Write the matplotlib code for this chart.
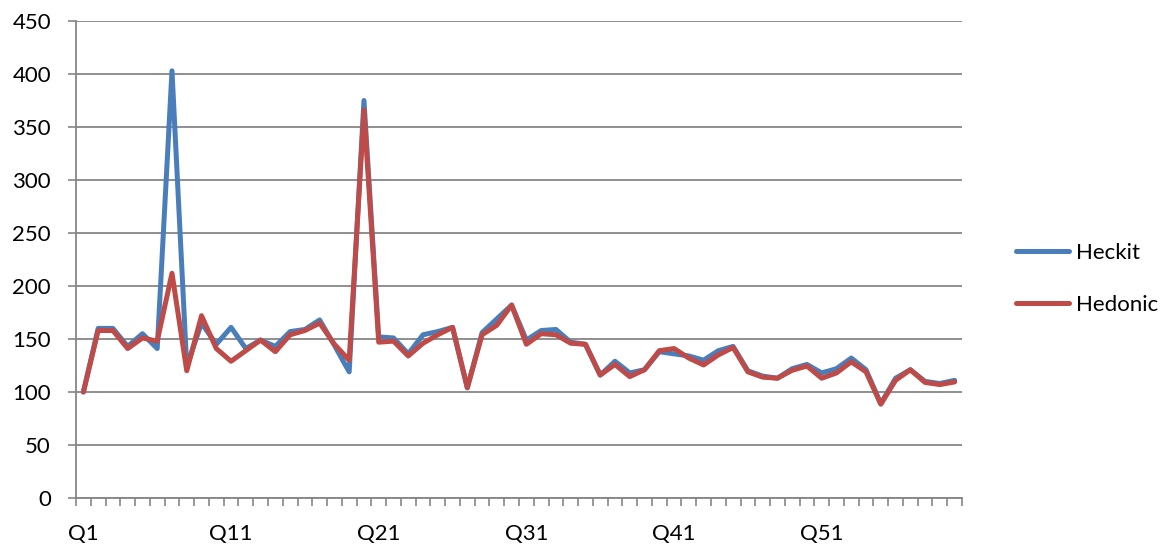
import matplotlib
matplotlib.use("Agg")
import matplotlib.pyplot as plt
from matplotlib.ticker import FixedLocator

# Quarterly index values, Q1..Q60
quarters = [f"Q{i}" for i in range(1, 61)]

heckit = [100, 160, 160, 143, 155, 141, 403, 124, 165, 145,
          161, 141, 149, 143, 157, 159, 168, 144, 119, 375,
          152, 151, 136, 154, 157, 161, 104, 156, 169, 182,
          149, 158, 159, 147, 145, 116, 129, 118, 121, 138,
          136, 134, 130, 139, 143, 120, 115, 113, 122, 126,
          118, 122, 132, 121, 89, 113, 121, 110, 108, 111]

hedonic = [100, 158, 158, 141, 151, 148, 212, 120, 172, 141,
           129, 139, 149, 138, 154, 158, 165, 145, 130, 366,
           147, 148, 134, 146, 154, 161, 104, 154, 163, 182,
           145, 155, 154, 146, 145, 116, 126, 114.5, 121, 139,
           141, 132, 125.5, 135, 142, 119, 114, 113, 120.5, 124.5,
           113, 118, 128.5, 119, 88.5, 111, 121, 109, 107, 109.5]

tick_labels = ["Q1", "Q11", "Q21", "Q31", "Q41", "Q51"]
y_ticks = [0, 50, 100, 150, 200, 250, 300, 350, 400, 450]

BLUE = "#4A7EBB"
RED = "#BE4B48"
GRID = "#868686"
FS = 16

plt.rcParams["font.family"] = ["Lato", "DejaVu Sans"]

fig = plt.figure(figsize=(11.72, 5.45), dpi=100)
ax = fig.add_axes([76 / 1172, 1 - 498 / 545, (962 - 76) / 1172, (498 - 21) / 545])

x = list(range(1, len(quarters) + 1))
ax.plot(x, heckit, color=BLUE, lw=3.6, solid_joinstyle="round",
        solid_capstyle="round", label="Heckit", zorder=3)
ax.plot(x, hedonic, color=RED, lw=3.6, solid_joinstyle="round",
        solid_capstyle="round", label="Hedonic", zorder=4)

ax.set_xlim(0.5, len(quarters) + 0.5)
ax.set_ylim(0, 450)
ax.set_yticks(y_ticks)
ax.yaxis.grid(True, color=GRID, lw=1.3)
ax.set_axisbelow(True)

# category boundary ticks and labels every ten quarters
ax.xaxis.set_major_locator(FixedLocator([i + 0.5 for i in range(0, len(quarters) + 1)]))
ax.set_xticklabels([])
label_pos = [quarters.index(q) + 1 for q in tick_labels]
ax.xaxis.set_minor_locator(FixedLocator(label_pos))
ax.set_xticklabels(tick_labels, minor=True)
ax.tick_params(axis="x", which="major", length=6, width=1.2, color=GRID)
ax.tick_params(axis="x", which="minor", length=0, pad=19, labelsize=FS)
ax.tick_params(axis="y", length=6, width=1.2, color=GRID, labelsize=FS, pad=12)

for side in ("top", "right"):
    ax.spines[side].set_visible(False)
for side in ("left", "bottom"):
    ax.spines[side].set_color(GRID)
    ax.spines[side].set_linewidth(1.3)

leg = fig.legend(loc="center left", bbox_to_anchor=(1016 / 1172, 1 - 279 / 545),
                 frameon=False, fontsize=FS, handlelength=2.4, handletextpad=0.28,
                 labelspacing=1.45, borderpad=0, borderaxespad=0)

fig.savefig("out.png", dpi=100)
